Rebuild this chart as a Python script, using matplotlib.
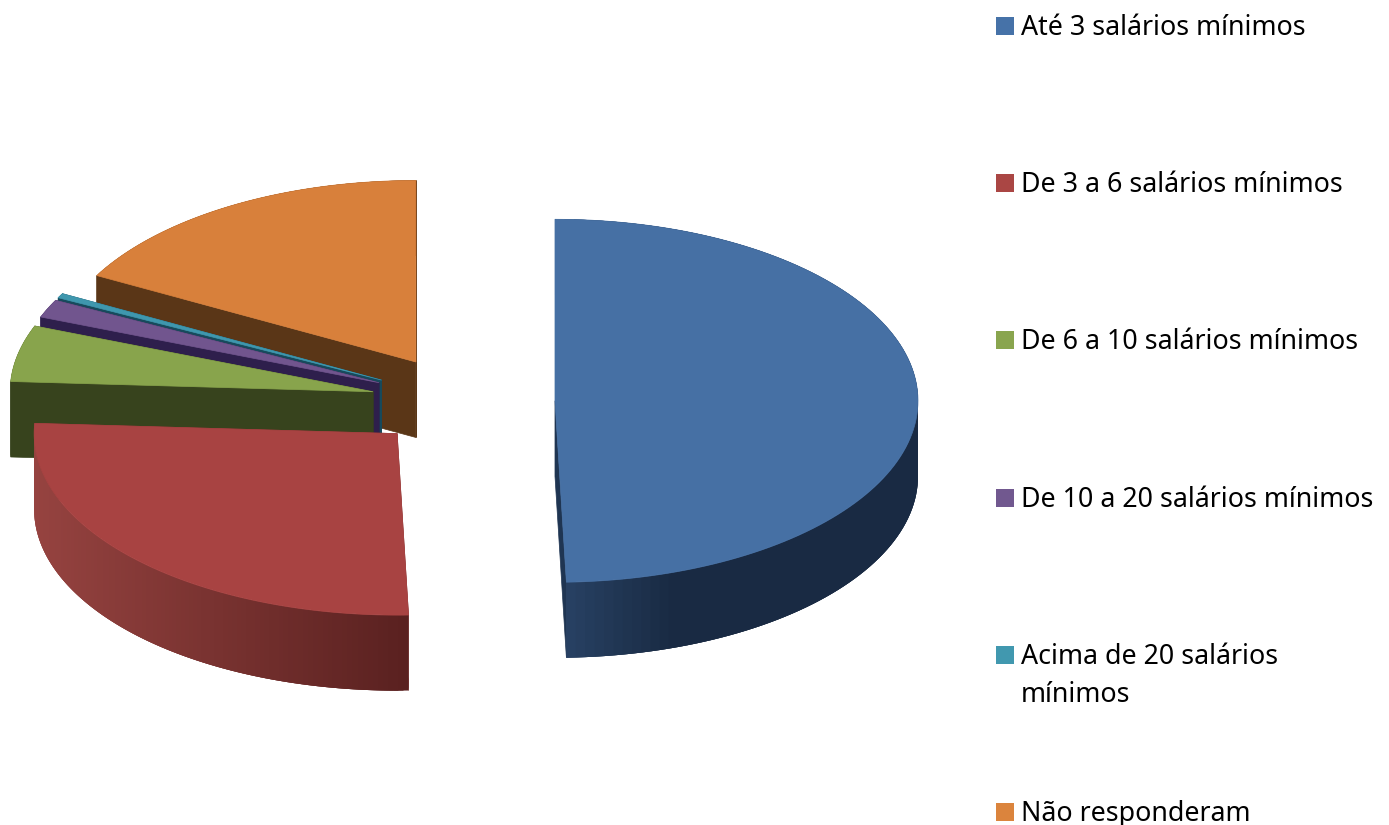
import numpy as np
import matplotlib
matplotlib.use("Agg")
import matplotlib.pyplot as plt
from matplotlib.patches import Polygon, Rectangle

labels = ["Até 3 salários mínimos", "De 3 a 6 salários mínimos", "De 6 a 10 salários mínimos",
          "De 10 a 20 salários mínimos", "Acima de 20 salários\nmínimos", "Não responderam"]
values = [49.5, 26.4, 5.0, 1.6, 0.4, 17.1]
topColors = ["#4670a4", "#a84342", "#88a44c", "#71558e", "#3f97ae", "#d8803b"]
legendColors = ["#4672a8", "#aa4644", "#89a54e", "#71588f", "#4198af", "#db843d"]
sideColors = ["#1f3552", "#7a3230", "#37431d", "#2e1f4c", "#174a5c", "#5a3617"]
# outer wall shading, left colour then right colour
wallLeft = ["#2a4568", "#964340", "#37431d", "#2e1f4c", "#174a5c", "#5a3617"]
wallRight = ["#192a43", "#5a2120", "#37431d", "#2e1f4c", "#174a5c", "#5a3617"]
legendBaselines = [35, 192, 349, 507, 664, 821]

# pie geometry in pixels
centerX, centerY = 463, 401.5
radiusX, radiusY = 363, 181.5
explode = 92
depth = 75.5

fig = plt.figure(figsize=(13.89, 8.25), dpi=100)
ax = fig.add_axes([0, 0, 1, 1])
ax.set_xlim(0, 1389)
ax.set_ylim(825, 0)
ax.axis("off")


def rimPoints(cx, cy, start, end):
    t = np.radians(np.linspace(start, end, 120))
    return cx + radiusX * np.sin(t), cy - radiusY * np.cos(t)


def mix(c1, c2, f):
    a = np.array(matplotlib.colors.to_rgb(c1))
    b = np.array(matplotlib.colors.to_rgb(c2))
    return a + (b - a) * f


def drawSlice(i, start, end):
    mid = np.radians((start + end) / 2)
    cx = centerX + explode * np.sin(mid)
    cy = centerY - explode * 0.5 * np.cos(mid)
    xs, ys = rimPoints(cx, cy, start, end)

    # flat radial walls
    for x, y in [(xs[0], ys[0]), (xs[-1], ys[-1])]:
        ax.add_patch(Polygon([(cx, cy), (x, y), (x, y + depth), (cx, cy + depth)],
                             facecolor=sideColors[i], edgecolor=sideColors[i], lw=0.5))
    # rounded wall in strips so the shading can change along it,
    # each strip overlaps the next one to hide the seams
    lo, hi = xs.min(), xs.max()
    for k in range(len(xs) - 1):
        f = (xs[k] - lo) / max(hi - lo, 1)
        if i == 0:
            f = min(f * 3, 1)
        col = mix(wallLeft[i], wallRight[i], f)
        stop = min(k + 3, len(xs) - 1)
        stripX = xs[k:stop + 1]
        stripY = ys[k:stop + 1]
        outline = list(zip(stripX, stripY)) + list(zip(stripX[::-1], stripY[::-1] + depth))
        ax.add_patch(Polygon(outline, facecolor=col, edgecolor="none", lw=0))
    top = [(cx, cy)] + list(zip(xs, ys))
    ax.add_patch(Polygon(top, facecolor=topColors[i], edgecolor=topColors[i], lw=0.5))


angles = np.cumsum([0] + values) * 3.6
# back slices first, the big front ones last
for i in [5, 4, 3, 2, 1, 0]:
    drawSlice(i, angles[i], angles[i + 1])

for i, label in enumerate(labels):
    base = legendBaselines[i]
    ax.add_patch(Rectangle((996, base - 18), 18, 18, facecolor=legendColors[i], edgecolor="none"))
    for n, line in enumerate(label.split("\n")):
        ax.text(1021, base + 38 * n, line, fontsize=19.3, family="Noto Sans",
                color="black", va="baseline", ha="left")

fig.savefig("out.png", dpi=100)
